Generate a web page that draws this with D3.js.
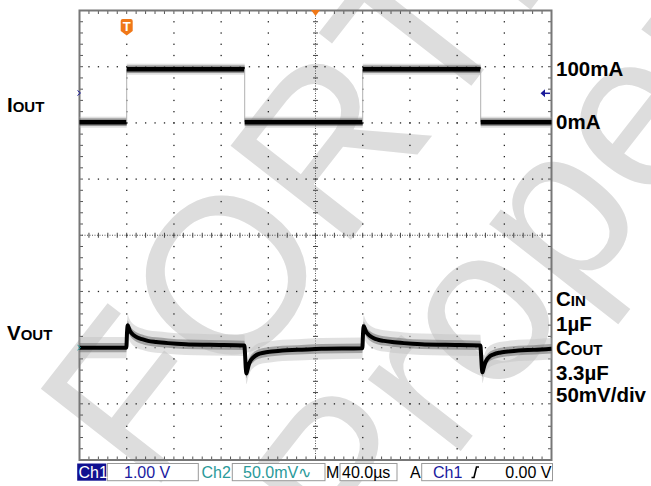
<!DOCTYPE html>
<html><head><meta charset="utf-8">
<script src="https://cdn.jsdelivr.net/npm/d3@7/dist/d3.min.js"></script>
<style>body{margin:0;background:#fff} svg{display:block}</style>
</head><body>
<svg id="c" width="651" height="486"></svg>
<script>
// ---------------- data ----------------
const timeDomain = [0, 400];            // µs, 40 µs/div, 10 div
const divDomain = [-4, 4];              // 8 vertical divisions
const ioutTimes  = [0, 40, 140, 240, 340, 400];   // step-after edges (µs)
const ioutValues = [0, 100, 0, 100, 0, 0];        // mA
const ioutLevelDiv = [2.012, 2.955];              // screen div of 0 mA and 100 mA
const voutTimes = [0, 39.7, 40.3, 40.9, 41.6, 42.5, 44, 46, 49, 53, 58, 65, 75, 90, 110, 139.7,
  140.3, 140.9, 141.5, 142.3, 143.5, 145, 147.5, 151, 156, 163, 172, 185, 205, 239.7,
  240.3, 240.9, 241.6, 242.5, 244, 246, 249, 253, 258, 265, 275, 290, 310, 339.7,
  340.3, 340.9, 341.5, 342.3, 343.5, 345, 347.5, 351, 356, 363, 372, 385, 400];
const voutValues = [0, 0, 14, 20, 18, 15.5, 13, 11, 9, 7.5, 6, 5, 4, 3, 2.5, 2,
  -6, -18, -23, -20, -15, -11.5, -8.5, -6, -4.5, -3.5, -2.5, -2, -1, -0.5,
  13, 19, 17.5, 15, 12.5, 10.5, 8.5, 7, 6, 5, 4, 3, 2.5, 2,
  -6, -17, -22, -19, -14.5, -11, -8, -6, -4.5, -3.5, -2.5, -2, -1];   // mV (AC, 50 mV/div)
const voutCenterDiv = -2;
const voutPerDiv = 50;
const noiseMv = [9.5, 4.2];
const ioutLabel = ["I", "OUT"];
const voutLabel = ["V", "OUT"];
const rightLabels = [
  {parts: ["100mA"], div: 2.955},
  {parts: ["0mA"], div: 2.012}
];
const condLabels = [["C", "IN"], ["1µF"], ["C", "OUT"], ["3.3µF"], ["50mV/div"]];
const statusItems = ["Ch1", "1.00 V", "Ch2", "50.0mV∿", "M", "40.0µs", "A", "Ch1", "0.00 V"];
const watermark = ["FORTE", "Property"];

// ---------------- scales ----------------
const svg = d3.select("#c");
const L = 79.5, R = 551.5, T = 10.5, B = 460;
const x = d3.scaleLinear().domain(timeDomain).range([L, R]);
const yDiv = d3.scaleLinear().domain(divDomain).range([B, T]);
const yI = d3.scaleLinear().domain([0, 100]).range(ioutLevelDiv.map(yDiv));
const yV = d3.scaleLinear().domain([-voutPerDiv, voutPerDiv])
  .range([yDiv(voutCenterDiv - 1), yDiv(voutCenterDiv + 1)]);

// ---------------- watermark ----------------
const wm = svg.append("g").attr("fill", "#dddddd")
  .attr("font-family", "Liberation Sans, Arial, sans-serif").attr("font-size", 222);
wm.append("text").attr("transform", "translate(150,497) rotate(-52)").text(watermark[0]);
wm.append("text").attr("transform", "translate(360,580) rotate(-52)").text(watermark[1]);

// ---------------- graticule ----------------
const g = svg.append("g");
const dotC = "#222";
for (let i = 1; i < 10; i++) {
  if (i === 5) continue;
  for (let k = -19; k <= 19; k++) {
    g.append("rect").attr("x", x(i * 40) - 0.6).attr("y", yDiv(k / 5) - 0.6)
      .attr("width", 1.3).attr("height", 1.3).attr("fill", dotC);
  }
}
for (let j = -3; j <= 3; j++) {
  if (j === 0) continue;
  for (let k = 1; k < 50; k++) {
    g.append("rect").attr("x", x(k * 8) - 0.6).attr("y", yDiv(j) - 0.6)
      .attr("width", 1.3).attr("height", 1.3).attr("fill", dotC);
  }
}
g.append("line").attr("x1", L).attr("x2", R).attr("y1", yDiv(0)).attr("y2", yDiv(0))
  .attr("stroke", "#555").attr("stroke-width", 1).attr("stroke-dasharray", "1,1.5");
g.append("line").attr("x1", x(200)).attr("x2", x(200)).attr("y1", T).attr("y2", B)
  .attr("stroke", "#555").attr("stroke-width", 1).attr("stroke-dasharray", "1,1.5");
for (let k = 1; k < 50; k++) {
  const xx = x(k * 8);
  g.append("line").attr("x1", xx).attr("x2", xx).attr("y1", yDiv(0) - 2.5).attr("y2", yDiv(0) + 2.5)
    .attr("stroke", "#444").attr("stroke-width", 1);
  g.append("line").attr("x1", xx).attr("x2", xx).attr("y1", T).attr("y2", T + 3.5)
    .attr("stroke", "#555").attr("stroke-width", 1);
  g.append("line").attr("x1", xx).attr("x2", xx).attr("y1", B - 3.5).attr("y2", B)
    .attr("stroke", "#555").attr("stroke-width", 1);
}
for (let k = -19; k <= 19; k++) {
  const yy = yDiv(k / 5);
  g.append("line").attr("x1", x(200) - 2.5).attr("x2", x(200) + 2.5).attr("y1", yy).attr("y2", yy)
    .attr("stroke", "#444").attr("stroke-width", 1);
  g.append("line").attr("x1", L).attr("x2", L + 3.5).attr("y1", yy).attr("y2", yy)
    .attr("stroke", "#555").attr("stroke-width", 1);
  g.append("line").attr("x1", R - 3.5).attr("x2", R).attr("y1", yy).attr("y2", yy)
    .attr("stroke", "#555").attr("stroke-width", 1);
}
g.append("rect").attr("x", L).attr("y", T).attr("width", R - L).attr("height", B - T)
  .attr("fill", "none").attr("stroke", "#777").attr("stroke-width", 2);

// ---------------- IOUT trace ----------------
const tr = svg.append("g");
for (let i = 0; i < ioutTimes.length - 1; i++) {
  const x1 = x(ioutTimes[i]), x2 = x(ioutTimes[i + 1]), yy = yI(ioutValues[i]);
  if (i > 0 && ioutValues[i] !== ioutValues[i - 1]) {
    tr.append("line").attr("x1", x1).attr("x2", x1)
      .attr("y1", yI(ioutValues[i - 1])).attr("y2", yy)
      .attr("stroke", "#b0b0b0").attr("stroke-width", 1);
  }
  tr.append("rect").attr("x", x1).attr("y", yy - 5.5).attr("width", x2 - x1).attr("height", 11)
    .attr("fill", "#b8b8b8").attr("opacity", 0.45);
  tr.append("rect").attr("x", x1).attr("y", yy - 3.8).attr("width", x2 - x1).attr("height", 7.6)
    .attr("fill", "#555").attr("opacity", 0.55);
  tr.append("line").attr("x1", x1).attr("x2", x2).attr("y1", yy).attr("y2", yy)
    .attr("stroke", "#000").attr("stroke-width", 4.5);
}

// ---------------- VOUT trace ----------------
const vData = voutTimes.map((t, i) => ({t, v: voutValues[i]}));
const band = (w) => d3.area().x(d => x(d.t)).y0(d => yV(d.v - w)).y1(d => yV(d.v + w))
  .curve(d3.curveMonotoneX);
tr.append("path").attr("d", band(noiseMv[0])(vData)).attr("fill", "#c4c4c4").attr("opacity", 0.5);
tr.append("path").attr("d", band(noiseMv[1])(vData)).attr("fill", "#666").attr("opacity", 0.5);
tr.append("path").attr("d", d3.line().x(d => x(d.t)).y(d => yV(d.v)).curve(d3.curveMonotoneX)(vData))
  .attr("fill", "none").attr("stroke", "#000").attr("stroke-width", 4);

// ---------------- markers ----------------
const mk = svg.append("g");
const tx = x(ioutTimes[1]);
mk.append("path").attr("d", `M${tx - 6},21 q0,-2 2,-2 h8 q2,0 2,2 v10 l-6,4.5 l-6,-4.5 z`).attr("fill", "#f07818");
mk.append("text").attr("x", tx).attr("y", 31).attr("text-anchor", "middle")
  .attr("font-family", "Liberation Sans, Arial, sans-serif").attr("font-weight", "bold")
  .attr("font-size", 13).attr("fill", "#fff").text("T");
mk.append("path").attr("d", `M${x(200) - 4.5},10 h9 l-4.5,6 z`).attr("fill", "#f07818");
mk.append("path").attr("d", `M${L - 2},90.5 l3,2.5 l-3,2.5`).attr("fill", "none")
  .attr("stroke", "#1a1a9a").attr("stroke-width", 1);
mk.append("path").attr("d", `M${L - 2},${yDiv(voutCenterDiv) - 2.5} l3,2.5 l-3,2.5`).attr("fill", "none")
  .attr("stroke", "#2a9a9a").attr("stroke-width", 1);
mk.append("path").attr("d", `M540.5,93.3 l4.5,-4 v8 z`).attr("fill", "#1a1a9a");
mk.append("line").attr("x1", 544).attr("x2", 550).attr("y1", 93.3).attr("y2", 93.3)
  .attr("stroke", "#1a1a9a").attr("stroke-width", 1.5);

// ---------------- labels ----------------
const lab = svg.append("g").attr("font-family", "Liberation Sans, Arial, Helvetica, sans-serif")
  .attr("font-weight", "bold").attr("fill", "#000");
function smallCaps(xp, yp, parts) {
  const t = lab.append("text").attr("x", xp).attr("y", yp);
  t.append("tspan").attr("font-size", 20.5).text(parts[0]);
  if (parts[1]) t.append("tspan").attr("font-size", 15).text(parts[1]);
}
smallCaps(7, 112, ioutLabel);
smallCaps(7, 340, voutLabel);
rightLabels.forEach(r => smallCaps(556, yDiv(r.div) + 6.5, r.parts));
const condY = [306, 330.5, 355, 380, 402];
condLabels.forEach((p, i) => smallCaps(556, condY[i], p));

// ---------------- status bar ----------------
const sb = svg.append("g").attr("font-family", "Liberation Sans, Arial, sans-serif").attr("font-size", 16);
const by = 463.5, bh = 17.2, base = 478;
const boxes = [[107.3, 198.3], [232.3, 325], [340, 397], [421.7, 552.5]];
boxes.forEach(b => sb.append("rect").attr("x", b[0]).attr("y", by).attr("width", b[1] - b[0]).attr("height", bh)
  .attr("fill", "#fff").attr("stroke", "#999").attr("stroke-width", 1));
sb.append("rect").attr("x", 77.2).attr("y", by).attr("width", 29).attr("height", bh).attr("fill", "#101090");
const navy = "#1a1aa0", teal = "#2a9a9a";
const txt = [
  [statusItems[0], 78.5, "#fff", "start"],
  [statusItems[1], 124, navy, "start"],
  [statusItems[2], 201.5, teal, "start"],
  [statusItems[3], 243, teal, "start"],
  [statusItems[4], 326, "#000", "start"],
  [statusItems[5], 342, "#000", "start"],
  [statusItems[6], 410, "#000", "start"],
  [statusItems[7], 433, navy, "start"],
  [statusItems[8], 551.5, "#000", "end"]
];
txt.forEach(d => sb.append("text").attr("x", d[1]).attr("y", base).attr("fill", d[2])
  .attr("text-anchor", d[3]).text(d[0]));
sb.append("path").attr("d", "M471.5,477.5 h2.5 l2.5,-10.5 h2.5").attr("fill", "none")
  .attr("stroke", "#000").attr("stroke-width", 1.6);
</script>
</body></html>
